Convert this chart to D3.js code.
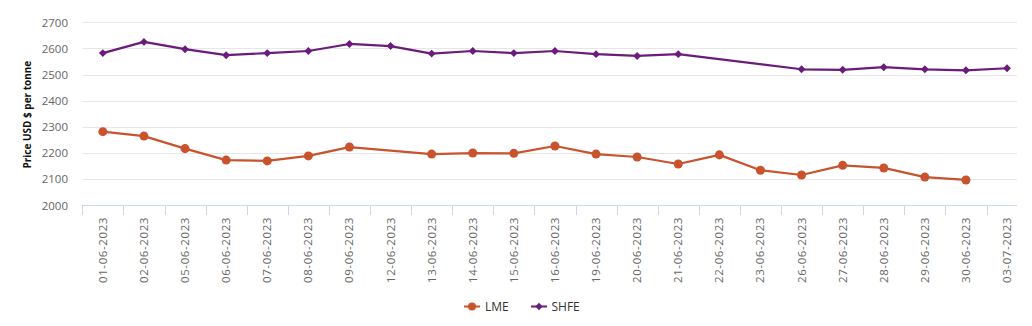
<!DOCTYPE html>
<html>
<head>
<meta charset="utf-8">
<script src="https://cdn.jsdelivr.net/npm/d3@7"></script>
<style>
  html, body { margin: 0; padding: 0; background: #fff; }
  svg { display: block; font-family: "Open Sans", "DejaVu Sans", sans-serif; }
</style>
</head>
<body>
<svg id="chart" width="1032" height="326"></svg>
<script>
const categories = ["01-06-2023","02-06-2023","05-06-2023","06-06-2023","07-06-2023","08-06-2023","09-06-2023","12-06-2023","13-06-2023","14-06-2023","15-06-2023","16-06-2023","19-06-2023","20-06-2023","21-06-2023","22-06-2023","23-06-2023","26-06-2023","27-06-2023","28-06-2023","29-06-2023","30-06-2023","03-07-2023"];
const lmeValues = [2281,2264,2216,2172,2169,2188,2222,null,2195,2199,2198,2226,2195,2184,2157,2192,2133,2115,2152,2142,2107,2096,null];
const shfeValues = [2582,2625,2597,2574,2582,2590,2617,2609,2580,2590,2582,2590,2578,2571,2578,null,null,2520,2518,2528,2520,2516,2524];
const yTicks = [2000,2100,2200,2300,2400,2500,2600,2700];
const seriesNames = ["LME","SHFE"];
const seriesColors = ["#c8532c","#6b1b7b"];

(function () {
const svg = d3.select("#chart");
const pLeft = 82.3, pRight = 1017, pTop = 22.3, pBottom = 205;
const band = 41.1;

const x = d3.scaleBand().domain(categories).range([pLeft, pLeft + band * categories.length]).padding(0);
const y = d3.scaleLinear().domain([2000, 2700]).range([pBottom, pTop]);

// gridlines
svg.append("g").selectAll("line").data(yTicks.filter(t => t !== 2000)).join("line")
  .attr("x1", pLeft).attr("x2", pRight)
  .attr("y1", d => Math.round(y(d)) + 0.5).attr("y2", d => Math.round(y(d)) + 0.5)
  .attr("stroke", "#e6e6e6").attr("stroke-width", 1);

// y axis labels
const yAxis = d3.axisLeft(y).tickValues(yTicks).tickSize(0).tickPadding(0).tickFormat(d3.format("d"));
const yg = svg.append("g").attr("transform", `translate(${68},0)`).call(yAxis);
yg.select(".domain").remove();
yg.selectAll("text").attr("fill", "#666").attr("font-size", "11.5px").attr("dy", "0.35em")
  .style("font-family", "'Open Sans', sans-serif");

// y title
svg.append("text")
  .attr("transform", `translate(31,${(pTop + pBottom) / 2 + 1}) rotate(-90)`)
  .attr("text-anchor", "middle")
  .attr("font-size", "10px").attr("font-weight", "bold").attr("fill", "#111")
  .text("Price USD $ per tonne");

// x axis
const xAxis = d3.axisBottom(x).tickSize(0).tickPadding(0);
const xg = svg.append("g").attr("transform", `translate(0,${pBottom})`).call(xAxis);
xg.select(".domain").remove();
xg.selectAll(".tick text")
  .attr("transform", "rotate(-90)")
  .attr("text-anchor", "end")
  .attr("x", -12).attr("y", 0).attr("dy", "0.35em")
  .attr("fill", "#666").attr("font-size", "11.5px")
  .style("letter-spacing", "0.6px")
  .style("font-family", "'Open Sans', sans-serif");

// axis line
svg.append("line").attr("x1", pLeft).attr("x2", pRight)
  .attr("y1", pBottom + 0.5).attr("y2", pBottom + 0.5)
  .attr("stroke", "#ccd6eb").attr("stroke-width", 1);
// ticks at band boundaries
svg.append("g").selectAll("line").data(categories).join("line")
  .attr("x1", d => Math.round(x(d)) + 0.5).attr("x2", d => Math.round(x(d)) + 0.5)
  .attr("y1", pBottom).attr("y2", pBottom + 10)
  .attr("stroke", "#ccd6eb").attr("stroke-width", 1);

const cx = d => x(d) + x.bandwidth() / 2;

function drawSeries(values, color, marker) {
  const data = categories.map((c, i) => ({ c, v: values[i] }));
  const line = d3.line().x(d => cx(d.c)).y(d => y(d.v));
  const valid = data.filter(d => d.v !== null);
  svg.append("path").datum(valid).attr("d", line)
    .attr("fill", "none").attr("stroke", color).attr("stroke-width", 2.2)
    .attr("stroke-linejoin", "round");
  const sym = marker === "circle" ? d3.symbol(d3.symbolCircle, 64) : d3.symbol(d3.symbolDiamond2, 40);
  svg.append("g").selectAll("path").data(valid).join("path")
    .attr("d", sym)
    .attr("transform", d => `translate(${cx(d.c)},${y(d.v)})`)
    .attr("fill", color);
}
drawSeries(lmeValues, seriesColors[0], "circle");
drawSeries(shfeValues, seriesColors[1], "diamond");

// legend
const legend = [
  { name: seriesNames[0], color: seriesColors[0], marker: "circle", x0: 464, tx: 485 },
  { name: seriesNames[1], color: seriesColors[1], marker: "diamond", x0: 531, tx: 551.5 }
];
const ly = 306.5;
legend.forEach(l => {
  svg.append("line").attr("x1", l.x0).attr("x2", l.x0 + 16).attr("y1", ly).attr("y2", ly)
    .attr("stroke", l.color).attr("stroke-width", 2);
  const sym = l.marker === "circle" ? d3.symbol(d3.symbolCircle, 50) : d3.symbol(d3.symbolDiamond2, 34);
  svg.append("path").attr("d", sym).attr("transform", `translate(${l.x0 + 8},${ly})`).attr("fill", l.color);
  svg.append("text").attr("x", l.tx).attr("y", ly).attr("dy", "0.35em")
    .attr("font-size", "12px").attr("fill", "#333")
    .style("font-family", "'Open Sans', sans-serif")
    .text(l.name);
});
})();
</script>
</body>
</html>
